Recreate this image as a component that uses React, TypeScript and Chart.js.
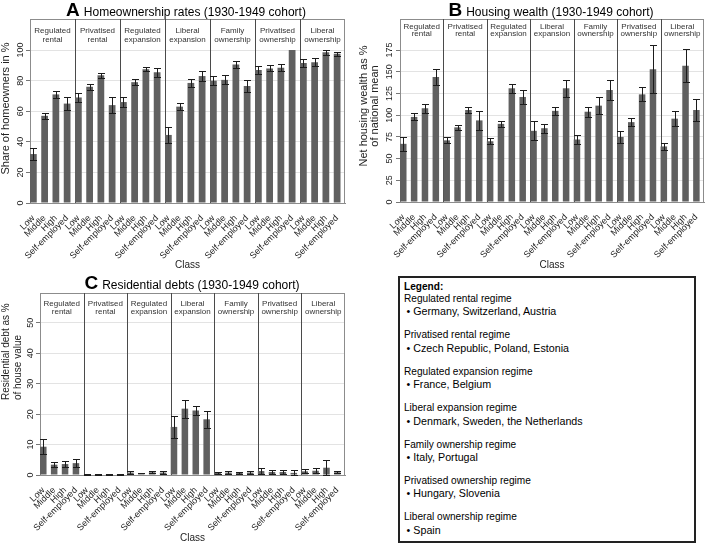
import React, { useEffect, useRef } from 'react';
import { Chart, registerables } from 'chart.js';

Chart.register(...registerables);

const FONT = "'Liberation Sans', Arial, Helvetica, sans-serif";
Chart.defaults.font.family = FONT;

// ---------- data ----------
const classes = ['Low', 'Middle', 'High', 'Self-employed'];
const regimeLabels = [
  ['Regulated', 'rental'],
  ['Privatised', 'rental'],
  ['Regulated', 'expansion'],
  ['Liberal', 'expansion'],
  ['Family', 'ownership'],
  ['Privatised', 'ownership'],
  ['Liberal', 'ownership'],
];

const ownershipRate = [32, 57, 71, 65, 69, 76, 83.5, 64, 66, 79, 87.5, 85.5, 44.5, 63, 78.5, 83, 80, 80.5, 90.5, 76.5, 87, 88, 88.5, 100, 91.5, 92, 98.5, 97.5];
const ownershipErr = [4, 2, 2.5, 4, 3, 2, 1.5, 5, 3, 2, 1.5, 3, 5.5, 2.5, 2.5, 3.5, 3, 3, 2.5, 4, 2.5, 2, 2.5, 0, 2.5, 2.5, 1.5, 1.5];
const ownershipTicks = [0, 20, 40, 60, 80, 100];
const ownershipAxisTitle = ['Share of homeowners in %'];

const wealth = [67, 98, 108, 144, 71, 86, 106, 94, 70, 90, 131, 121, 82, 85, 105, 131, 72, 104, 111, 129, 75, 92, 124, 153, 64, 96, 157, 106];
const wealthErr = [8, 4, 5, 9, 3.5, 3, 4, 11, 3.5, 3.5, 5.5, 8.5, 11, 5, 5, 9.5, 5, 6, 10, 12, 7, 5, 8, 28, 4, 9, 19, 13];
const wealthTicks = [0, 25, 50, 75, 100, 125, 150, 175];
const wealthAxisTitle = ['Net housing wealth as %', 'of national mean'];

const debt = [9.3, 3.4, 3.6, 3.9, 0.2, 0.2, 0.2, 0.2, 0.8, 0.6, 0.9, 0.8, 15.8, 21.8, 21.2, 18.3, 0.7, 0.8, 0.7, 0.8, 1.3, 1, 1, 0.7, 1.2, 1.4, 2.4, 0.9];
const debtErr = [2.5, 0.8, 1, 1.3, 0.05, 0.05, 0.05, 0.05, 0.4, 0.1, 0.3, 0.4, 3.5, 3, 1.6, 2.7, 0.4, 0.4, 0.3, 0.4, 1, 0.6, 0.6, 0.8, 0.7, 0.8, 2.4, 0.4];
const debtTicks = [0, 10, 20, 30, 40, 50];
const debtAxisTitle = ['Residential debt as %', 'of house value'];

const legendTitle = 'Legend:';
const legendRegimes = [
  'Regulated rental regime',
  'Privatised rental regime',
  'Regulated expansion regime',
  'Liberal expansion regime',
  'Family ownership regime',
  'Privatised ownership regime',
  'Liberal ownership regime',
];
const legendCountries = [
  'Germany, Switzerland, Austria',
  'Czech Republic, Poland, Estonia',
  'France, Belgium',
  'Denmark, Sweden, the Netherlands',
  'Italy, Portugal',
  'Hungary, Slovenia',
  'Spain',
];

// ---------- panel layout ----------
type Panel = {
  letter: string;
  title: string;
  values: number[];
  errors: number[];
  ticks: number[];
  yMax: number;
  axisTitle: string[];
  box: { left: number; top: number; width: number; height: number };
  area: { left: number; right: number; top: number; bottom: number };
  titleCenter: number;
  titleBaseline: number;
  headerY: number[];
  yTitleX: number[];
  yTitleY: number;
  yTitleAlign: CanvasTextAlign;
  yTitleSize: number;
  tickPad: number;
};

const panels: Panel[] = [
  {
    letter: 'A', title: 'Homeownership rates (1930-1949 cohort)',
    values: ownershipRate, errors: ownershipErr, ticks: ownershipTicks, yMax: 120.3, axisTitle: ownershipAxisTitle,
    box: { left: 0, top: 0, width: 354, height: 272 },
    area: { left: 30, right: 345, top: 19, bottom: 203 },
    titleCenter: 186, titleBaseline: 16, headerY: [31, 39.5],
    yTitleX: [6], yTitleY: 108.5, yTitleAlign: 'center', yTitleSize: 11, tickPad: -2.5,
  },
  {
    letter: 'B', title: 'Housing wealth (1930-1949 cohort)',
    values: wealth, errors: wealthErr, ticks: wealthTicks, yMax: 210.8, axisTitle: wealthAxisTitle,
    box: { left: 354, top: 0, width: 354, height: 272 },
    area: { left: 46, right: 350, top: 19, bottom: 202 },
    titleCenter: 197, titleBaseline: 16, headerY: [26.5, 34],
    yTitleX: [10, 21], yTitleY: 106, yTitleAlign: 'center', yTitleSize: 11, tickPad: -1.5,
  },
  {
    letter: 'C', title: 'Residential debts (1930-1949 cohort)',
    values: debt, errors: debtErr, ticks: debtTicks, yMax: 59.8, axisTitle: debtAxisTitle,
    box: { left: 0, top: 270, width: 354, height: 275 },
    area: { left: 40, right: 345, top: 23, bottom: 205 },
    titleCenter: 192, titleBaseline: 19, headerY: [34, 41.5],
    yTitleX: [6.5, 18], yTitleY: 130, yTitleAlign: 'left', yTitleSize: 10, tickPad: 0,
  },
];

const X_MIN = -0.3;
const X_MAX = 27.7;

function makeDecor(p: Panel) {
  return {
    id: 'panelDecor' + p.letter,
    beforeDatasetsDraw(chart: any) {
      const { ctx, chartArea, scales } = chart;
      const x = scales.x;
      ctx.save();
      ctx.strokeStyle = '#8c8c8c';
      ctx.lineWidth = 1;
      ctx.beginPath();
      ctx.moveTo(chartArea.left, Math.round(chartArea.top) + 0.5);
      ctx.lineTo(chartArea.right, Math.round(chartArea.top) + 0.5);
      ctx.moveTo(Math.round(chartArea.right) - 0.5, chartArea.top);
      ctx.lineTo(Math.round(chartArea.right) - 0.5, chartArea.bottom);
      ctx.stroke();
      ctx.strokeStyle = '#4a4a4a';
      ctx.beginPath();
      for (let k = 1; k < regimeLabels.length; k++) {
        const px = Math.round(x.getPixelForValue(4 * k + X_MIN)) + 0.5;
        ctx.moveTo(px, chartArea.top);
        ctx.lineTo(px, chartArea.bottom);
      }
      ctx.stroke();
      ctx.fillStyle = '#333';
      ctx.font = `8px ${FONT}`;
      ctx.textAlign = 'center';
      ctx.textBaseline = 'middle';
      regimeLabels.forEach((lines, k) => {
        const cx = x.getPixelForValue(4 * k + X_MIN + 2);
        lines.forEach((ln, j) => ctx.fillText(ln, cx, p.headerY[j]));
      });
      ctx.restore();
    },
    afterDatasetsDraw(chart: any) {
      const { ctx, scales } = chart;
      const x = scales.x;
      const y = scales.y;
      ctx.save();
      ctx.strokeStyle = '#1c1c1c';
      ctx.lineWidth = 1;
      ctx.beginPath();
      p.values.forEach((v, i) => {
        const e = p.errors[i];
        if (!e) return;
        const px = Math.round(x.getPixelForValue(i)) + 0.5;
        const yt = Math.round(y.getPixelForValue(v + e)) + 0.5;
        const yb = Math.round(y.getPixelForValue(Math.max(0, v - e))) + 0.5;
        ctx.moveTo(px, yt);
        ctx.lineTo(px, yb);
        ctx.moveTo(px - 3.5, yt);
        ctx.lineTo(px + 3.5, yt);
        ctx.moveTo(px - 3.5, yb);
        ctx.lineTo(px + 3.5, yb);
      });
      ctx.stroke();
      ctx.restore();
    },
    afterDraw(chart: any) {
      const { ctx } = chart;
      ctx.save();
      ctx.fillStyle = '#000';
      ctx.textBaseline = 'alphabetic';
      ctx.textAlign = 'left';
      ctx.font = `bold 19px ${FONT}`;
      const wl = ctx.measureText(p.letter).width;
      ctx.font = `12px ${FONT}`;
      const wt = ctx.measureText(p.title).width;
      const gap = 4;
      const sx = p.titleCenter - (wl + gap + wt) / 2;
      ctx.font = `bold 19px ${FONT}`;
      ctx.fillText(p.letter, sx, p.titleBaseline);
      ctx.font = `12px ${FONT}`;
      ctx.fillText(p.title, sx + wl + gap, p.titleBaseline);
      ctx.fillStyle = '#222';
      ctx.font = `${p.yTitleSize}px ${FONT}`;
      ctx.textBaseline = 'middle';
      ctx.textAlign = p.yTitleAlign;
      p.axisTitle.forEach((ln, i) => {
        ctx.save();
        ctx.translate(p.yTitleX[i], p.yTitleY);
        ctx.rotate(-Math.PI / 2);
        ctx.fillText(ln, 0, 0);
        ctx.restore();
      });
      ctx.restore();
    },
  };
}

function buildConfig(p: Panel): any {
  return {
    type: 'bar',
    data: {
      datasets: [
        {
          data: p.values.map((v, i) => ({ x: i, y: v })),
          backgroundColor: '#606060',
          borderWidth: 0,
          barPercentage: 0.6,
          categoryPercentage: 1,
        },
      ],
    },
    options: {
      animation: false,
      responsive: false,
      maintainAspectRatio: false,
      devicePixelRatio: 1,
      layout: {
        padding: { top: p.area.top, right: p.box.width - p.area.right, left: 0, bottom: 0 },
      },
      plugins: {
        legend: { display: false },
        tooltip: { enabled: false },
        title: { display: false },
      },
      scales: {
        x: {
          type: 'linear',
          min: X_MIN,
          max: X_MAX,
          bounds: 'data',
          offset: false,
          afterBuildTicks: (s: any) => {
            s.ticks = p.values.map((_, i) => ({ value: i }));
          },
          afterFit: (s: any) => {
            s.height = p.box.height - p.area.bottom;
          },
          grid: { display: false, offset: false },
          border: { display: true, color: '#8c8c8c' },
          ticks: {
            autoSkip: false,
            minRotation: 45,
            maxRotation: 45,
            padding: 2,
            color: '#222',
            font: { size: 9, family: FONT },
            callback: (v: any) => classes[Math.round(Number(v)) % 4],
          },
          title: {
            display: true,
            text: 'Class',
            color: '#222',
            font: { size: 10, family: FONT, lineHeight: 1.2 },
            padding: 1,
          },
        },
        y: {
          min: 0,
          max: p.yMax,
          afterBuildTicks: (s: any) => {
            s.ticks = p.ticks.map((v) => ({ value: v }));
          },
          afterFit: (s: any) => {
            s.width = p.area.left;
          },
          grid: { color: '#e3e3e3', tickColor: '#777', tickLength: 4, lineWidth: 1 },
          border: { display: true, color: '#8c8c8c' },
          ticks: {
            minRotation: 90,
            maxRotation: 90,
            crossAlign: 'center',
            padding: p.tickPad,
            color: '#222',
            font: { size: 9, family: FONT },
          },
        },
      },
    },
    plugins: [makeDecor(p)],
  };
}

function PanelChart({ p }: { p: Panel }) {
  const ref = useRef<HTMLCanvasElement>(null);
  useEffect(() => {
    if (!ref.current) return;
    const chart = new Chart(ref.current, buildConfig(p));
    return () => chart.destroy();
  }, [p]);
  return (
    <canvas
      ref={ref}
      width={p.box.width}
      height={p.box.height}
      style={{
        position: 'absolute',
        left: p.box.left,
        top: p.box.top,
        width: p.box.width,
        height: p.box.height,
      }}
    />
  );
}

function LegendBox() {
  return (
    <div
      style={{
        position: 'absolute',
        left: 398,
        top: 276,
        width: 298,
        height: 267,
        boxSizing: 'border-box',
        border: '2px solid #222',
        padding: '2.5px 0 0 4px',
        fontFamily: FONT,
        fontSize: 10.1,
        lineHeight: '12.4px',
        color: '#000',
        background: '#fff',
      }}
    >
      <div style={{ fontWeight: 'bold' }}>{legendTitle}</div>
      {legendRegimes.map((r, i) => (
        <div key={r} style={{ marginTop: i === 0 ? 0 : 11.6 }}>
          <div>{r}</div>
          <div style={{ paddingLeft: 2.6, fontSize: 10.7 }}>{'\u2022 ' + legendCountries[i]}</div>
        </div>
      ))}
    </div>
  );
}

export default function App() {
  return (
    <div
      style={{
        position: 'absolute',
        left: 0,
        top: 0,
        width: 708,
        height: 545,
        background: '#fff',
        overflow: 'hidden',
      }}
    >
      {panels.map((p) => (
        <PanelChart key={p.letter} p={p} />
      ))}
      <LegendBox />
    </div>
  );
}
